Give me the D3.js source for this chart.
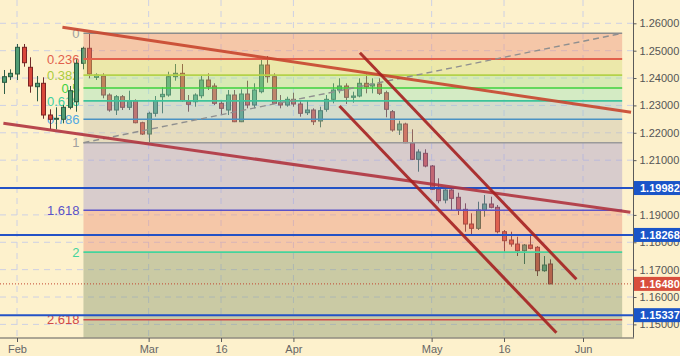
<!DOCTYPE html>
<html><head><meta charset="utf-8">
<script src="https://cdn.jsdelivr.net/npm/d3@7"></script>
<style>
html,body{margin:0;padding:0;background:#fdf1cc;}
svg{display:block;font-family:"Liberation Sans",Arial,sans-serif;}
</style></head>
<body>
<svg id="chart" width="680" height="356"></svg>
<script>
// ---------- data ----------
// trading-day index 0 = 1 Feb 2018 (weekdays only)
const candleIndex = d3.range(-2, 82);
const opens  = [1.23844,1.24049,1.24148,1.25123,1.24392,1.23684,1.23808,1.22650,1.22493,1.22493,1.22931,1.23136,1.24539,1.25087,1.24027,1.24075,1.23380,1.22832,1.23318,1.22931,1.23172,1.22368,1.21955,1.22712,1.23318,1.23380,1.24049,1.24173,1.23136,1.23136,1.23354,1.23928,1.23709,1.23077,1.22832,1.23380,1.22405,1.23417,1.23015,1.23501,1.24476,1.24049,1.23099,1.23015,1.23223,1.23052,1.22734,1.22832,1.22430,1.22858,1.23223,1.23563,1.23709,1.23296,1.23344,1.23808,1.23709,1.23782,1.23464,1.22770,1.22102,1.22321,1.21616,1.21031,1.21250,1.20786,1.19935,1.19544,1.19909,1.19643,1.19204,1.18667,1.18510,1.19179,1.19398,1.19277,1.18386,1.18083,1.17936,1.17692,1.17900,1.17816,1.16961,1.17206];
const highs  = [1.24294,1.24319,1.25244,1.25244,1.24758,1.24075,1.24027,1.22858,1.22931,1.23015,1.23709,1.24685,1.25145,1.25635,1.24173,1.24173,1.23442,1.23380,1.23380,1.23538,1.23223,1.22405,1.22770,1.23344,1.23662,1.24232,1.24513,1.24513,1.23380,1.23442,1.24111,1.24173,1.23808,1.23198,1.23563,1.23563,1.23590,1.23903,1.23808,1.24685,1.24805,1.24173,1.23380,1.23318,1.23464,1.23198,1.23198,1.22894,1.22953,1.23380,1.23808,1.23991,1.23808,1.23501,1.23991,1.24148,1.23991,1.23991,1.23538,1.22832,1.22441,1.22368,1.22127,1.21397,1.21397,1.20822,1.20337,1.20030,1.19972,1.19811,1.19423,1.19058,1.19482,1.19727,1.19665,1.19361,1.18448,1.18386,1.18203,1.17936,1.18265,1.17863,1.17498,1.17377];
const lows   = [1.23417,1.23928,1.23928,1.24414,1.23464,1.23150,1.22514,1.22127,1.22127,1.22346,1.22858,1.22770,1.24319,1.23991,1.23928,1.23260,1.22770,1.22650,1.22832,1.22832,1.22346,1.21919,1.21638,1.22588,1.22712,1.23318,1.23903,1.23136,1.22770,1.22953,1.23260,1.23563,1.23015,1.22670,1.22650,1.22390,1.22390,1.22894,1.22894,1.23442,1.23830,1.23052,1.22894,1.22953,1.22953,1.22588,1.22650,1.22284,1.22200,1.22770,1.23077,1.23442,1.23052,1.23099,1.23296,1.23442,1.23442,1.23380,1.22566,1.22040,1.21919,1.21620,1.21006,1.20578,1.20739,1.19909,1.19423,1.19423,1.19179,1.18996,1.18386,1.18265,1.18448,1.18934,1.19241,1.18327,1.17655,1.17838,1.17498,1.17206,1.17743,1.16767,1.16924,1.16475];
const closes = [1.24049,1.24173,1.25123,1.24560,1.23709,1.23808,1.22650,1.22493,1.22530,1.22931,1.23538,1.24539,1.25087,1.24148,1.24111,1.23380,1.22832,1.23318,1.22931,1.23172,1.22368,1.21955,1.22712,1.23172,1.23405,1.24049,1.24173,1.23172,1.23041,1.23380,1.23928,1.23684,1.23077,1.22894,1.23380,1.22405,1.23417,1.23015,1.23563,1.24476,1.24049,1.23077,1.23015,1.23223,1.23052,1.22712,1.22832,1.22405,1.22807,1.23223,1.23563,1.23709,1.23296,1.23344,1.23808,1.23684,1.23782,1.23442,1.22858,1.22102,1.22321,1.21638,1.21031,1.21298,1.20786,1.19935,1.19519,1.19909,1.19606,1.19204,1.18667,1.18510,1.19179,1.19398,1.19277,1.18386,1.18057,1.17936,1.17692,1.17900,1.17779,1.16961,1.17169,1.16480];

const priceTicks = [1.15,1.16,1.17,1.18,1.19,1.20,1.21,1.22,1.23,1.24,1.25,1.26];
const dateTickIndex = [0, 20, 31, 42, 63, 74, 86];
const dateTickLabels = ["Feb","Mar","16","Apr","May","16","Jun"];

// Fibonacci tool: anchor 1 (level 1) -> anchor 2 (level 0), as [index, price]
const fibStart = [10.1, 1.21638];
const fibEnd   = [91.95, 1.25635];
const fibRatios = [0, 0.236, 0.382, 0.5, 0.618, 0.786, 1, 1.618, 2, 2.618, 3.2];
const fibLabels = ["0","0.236","0.382","0.5","0.618","0.786","1","1.618","2","2.618"];
const fibLineColors = ["#8c8c8c","#e2604c","#b4d24a","#3ed23e","#3cc49a","#4a92c4","#9a9a9a","#5a52c8","#44d49c","#d24848"];
const fibLabelColors = ["#a0a0a0","#e2604c","#aacc3c","#3ed23e","#3cd0a0","#52a8e2","#a0a0a0","#5a52c8","#44d49c","#d24848"];
const fibBandColors = ["#e98a72","#d2dd77","#a0e290","#96e4b8","#96bdcc","#c4bda9","#a195cc","#e98a72","#7e9068","#7e9068"];

// horizontal support/resistance levels
const hLevels = [1.19982, 1.18268, 1.15337];
const lastPrice = 1.16480;

// trend lines [[index, price],[index, price]]
const trendTop     = [[6.9, 1.25854],[93.3, 1.22748]];
const trendLong    = [[-2.07, 1.22346],[93.2, 1.19095]];
const channelUpper = [[52.1, 1.24926],[85.0, 1.16647]];
const channelLower = [[49.0, 1.22978],[81.96, 1.14696]];

// ---------- drawing ----------
const svg = d3.select("#chart");
const W = 680, H = 356, plotR = 633, plotB = 337.5;
const x = d3.scaleLinear().domain([0, 86]).range([17, 583]);
const y = d3.scaleLinear().domain([1.15, 1.26]).range([324.4, 23.3]);

svg.append("rect").attr("width", W).attr("height", H).attr("fill", "#fdf1cc");
svg.append("clipPath").attr("id","plot").append("rect").attr("x",0).attr("y",0).attr("width",plotR).attr("height",plotB);
const g = svg.append("g").attr("clip-path","url(#plot)");

// grid
g.selectAll(".hg").data(priceTicks).join("line")
  .attr("x1",0).attr("x2",plotR).attr("y1",d=>y(d)).attr("y2",d=>y(d))
  .attr("stroke","#cdd0e4").attr("stroke-dasharray","6,5").attr("stroke-width",1);
g.selectAll(".vg").data(dateTickIndex).join("line")
  .attr("x1",d=>x(d)).attr("x2",d=>x(d)).attr("y1",0).attr("y2",plotB)
  .attr("stroke","#cdd0e4").attr("stroke-dasharray","6,5").attr("stroke-width",1);

// fib geometry
const fx0 = x(fibStart[0]), fx1 = x(fibEnd[0]);
const fibPrice = r => fibEnd[1] - r * (fibEnd[1] - fibStart[1]);

// fib labels (under candles)
g.selectAll(".fl").data(fibLabels).join("text")
  .attr("x", fx0 - 4).attr("y", (d,i)=>y(fibPrice(fibRatios[i])))
  .attr("dy","0.36em").attr("text-anchor","end")
  .attr("font-size", 13).attr("fill",(d,i)=>fibLabelColors[i]).text(d=>d);

// candles
const candles = candleIndex.map((idx,i)=>({idx, o:opens[i], h:highs[i], l:lows[i], c:closes[i]}));
const cg = g.append("g");
const up = d => d.c >= d.o;
cg.selectAll(".wick").data(candles).join("line")
  .attr("x1",d=>Math.round(x(d.idx))+0.5).attr("x2",d=>Math.round(x(d.idx))+0.5)
  .attr("y1",d=>y(d.h)).attr("y2",d=>y(d.l))
  .attr("stroke",d=>up(d)?"#2f5e46":"#6e2a2a").attr("stroke-width",1);
cg.selectAll(".body").data(candles).join("rect")
  .attr("x",d=>Math.round(x(d.idx))-1.5).attr("width",4)
  .attr("y",d=>y(Math.max(d.o,d.c)))
  .attr("height",d=>Math.max(1, Math.abs(y(d.o)-y(d.c))))
  .attr("fill",d=>up(d)?"#4f9c74":"#d9473a")
  .attr("stroke",d=>up(d)?"#2c5a40":"#7a2424").attr("stroke-width",1);

// fib bands (translucent overlay)
const bands = fibBandColors.map((c,i)=>({c, a:fibRatios[i], b:fibRatios[i+1]}));
g.selectAll(".band").data(bands).join("rect")
  .attr("x",fx0).attr("width",fx1-fx0)
  .attr("y",d=>y(fibPrice(d.a)))
  .attr("height",d=>y(fibPrice(d.b))-y(fibPrice(d.a)))
  .attr("fill",d=>d.c).attr("fill-opacity",0.4);
// fib lines
g.selectAll(".fline").data(fibLabels).join("line")
  .attr("x1",fx0).attr("x2",fx1)
  .attr("y1",(d,i)=>y(fibPrice(fibRatios[i]))).attr("y2",(d,i)=>y(fibPrice(fibRatios[i])))
  .attr("stroke",(d,i)=>fibLineColors[i]).attr("stroke-width",(d,i)=>i===1?2:1.6);
// fib diagonal
g.append("line").attr("x1",fx0).attr("y1",y(fibStart[1])).attr("x2",fx1).attr("y2",y(fibEnd[1]))
  .attr("stroke","#8f8f8f").attr("stroke-width",1.4).attr("stroke-dasharray","6,4");

// horizontal levels
g.selectAll(".hl").data(hLevels).join("line")
  .attr("x1",0).attr("x2",plotR).attr("y1",d=>y(d)).attr("y2",d=>y(d))
  .attr("stroke","#2352c6").attr("stroke-width",2);
g.append("line").attr("x1",0).attr("x2",plotR).attr("y1",y(lastPrice)).attr("y2",y(lastPrice))
  .attr("stroke","#c2452f").attr("stroke-width",1).attr("stroke-dasharray","1,2");

// trend lines
const tl = d3.line().x(d=>x(d[0])).y(d=>y(d[1]));
[[trendTop,"#c8452e"],[trendLong,"#b0343f"],[channelUpper,"#a52020"],[channelLower,"#a52020"]].forEach(([pts,col])=>{
  g.append("path").attr("d",tl(pts)).attr("fill","none").attr("stroke",col)
   .attr("stroke-width",3).attr("stroke-opacity",0.9);
});

// axes
svg.append("line").attr("x1",plotR+0.5).attr("x2",plotR+0.5).attr("y1",0).attr("y2",plotB)
  .attr("stroke","#5a5a5a").attr("stroke-width",1);
svg.append("line").attr("x1",0).attr("x2",plotR+1).attr("y1",plotB+0.5).attr("y2",plotB+0.5)
  .attr("stroke","#5a5a5a").attr("stroke-width",1);

const ra = svg.append("g").attr("transform",`translate(${plotR+0.5},0)`)
  .call(d3.axisRight(y).tickValues(priceTicks).tickFormat(d3.format(".5f")).tickSize(3).tickPadding(3));
ra.select(".domain").remove();
ra.selectAll("line").attr("stroke","#5a5a5a");
ra.selectAll("text").attr("font-size",11).attr("fill","#555").attr("font-family","Liberation Sans, Arial, sans-serif");

const ba = svg.append("g").attr("transform",`translate(0,${plotB+0.5})`)
  .call(d3.axisBottom(x).tickValues(dateTickIndex).tickFormat((d,i)=>dateTickLabels[i]).tickSize(4).tickPadding(3));
ba.select(".domain").remove();
ba.selectAll("line").attr("stroke","#5a5a5a");
ba.selectAll("text").attr("font-size",11).attr("fill","#666").attr("font-family","Liberation Sans, Arial, sans-serif");

// price labels
const tags = hLevels.map(v=>({v, c:"#1a55c8"})).concat([{v:lastPrice, c:"#d84e3c"}]);
const tg = svg.selectAll(".tag").data(tags).join("g").attr("transform",d=>`translate(${plotR+1},${y(d.v)})`);
tg.append("rect").attr("x",0).attr("y",-7).attr("width",W-plotR).attr("height",14).attr("fill",d=>d.c);
tg.append("text").attr("x",6).attr("dy","0.36em").attr("font-size",11).attr("font-weight","bold")
  .attr("fill","#fff").text(d=>d3.format(".5f")(d.v));
</script>
</body></html>
